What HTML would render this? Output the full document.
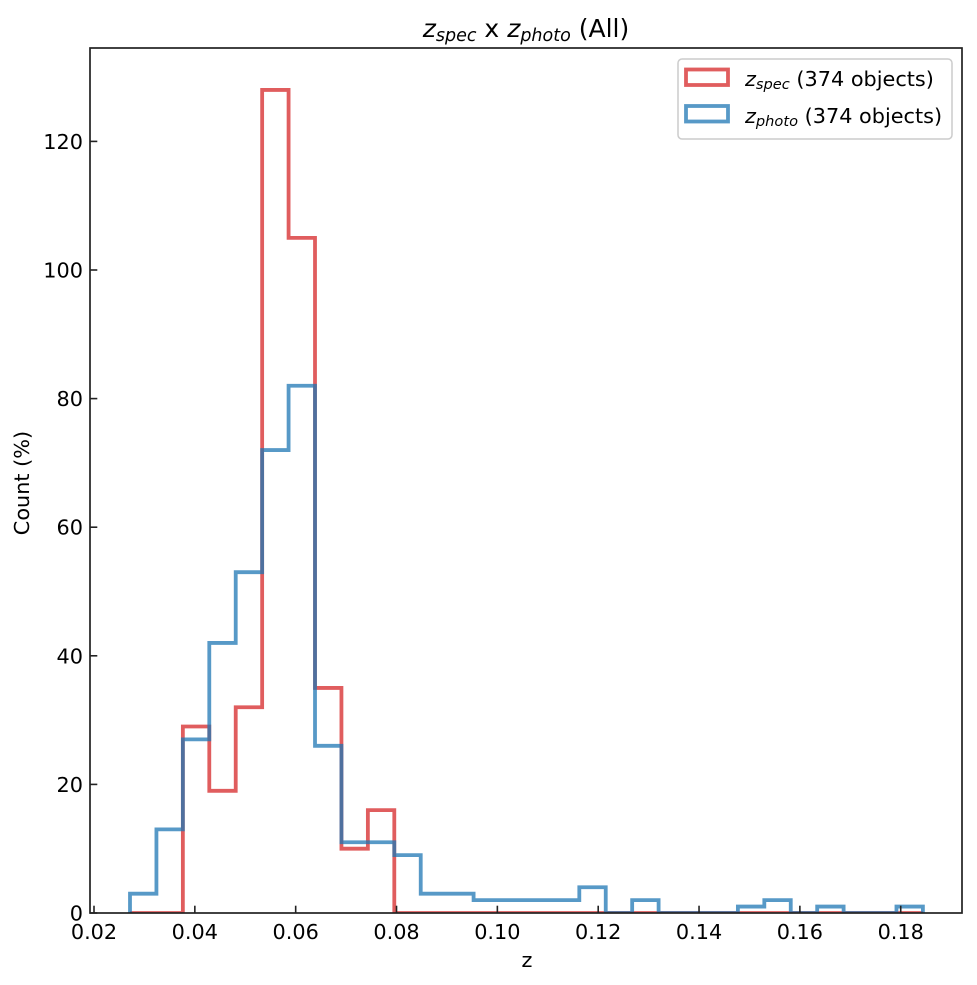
<!DOCTYPE html>
<html>
<head>
<meta charset="utf-8">
<style>
  html, body { margin: 0; padding: 0; background: #ffffff; }
  svg { display: block; }
  text { font-family: "DejaVu Sans", "Liberation Sans", sans-serif; fill: #000; }
</style>
</head>
<body>
<svg width="977" height="985" viewBox="0 0 977 985" xmlns="http://www.w3.org/2000/svg">
  <rect x="0" y="0" width="977" height="985" fill="#ffffff"/>
  <defs>
    <clipPath id="ax">
      <rect x="90" y="48" width="872" height="865"/>
    </clipPath>
  </defs>

  <!-- Histograms -->
  <g clip-path="url(#ax)" fill="none" stroke-width="3.8" stroke-linejoin="miter" stroke-linecap="butt">
    <path stroke="#d62728" stroke-opacity="0.75"
      d="M130,913 H182.86 V726.53 H209.29 V790.83 H235.72 V707.24 H262.15 V89.96 H288.58 V237.85 H315.01 V687.95 H341.44 V848.7 H367.87 V810.12 H394.3 V913 H922.9"/>
    <path stroke="#1f77b4" stroke-opacity="0.75"
      d="M130,913 V893.71 H156.43 V829.41 H182.86 V739.39 H209.29 V642.94 H235.72 V572.21 H262.15 V450.04 H288.58 V385.74 H315.01 V745.82 H341.44 V842.27 H394.3 V855.13 H420.73 V893.71 H473.59 V900.14 H579.31 V887.28 H605.74 V913 H632.17 V900.14 H658.6 V913 H737.89 V906.57 H764.32 V900.14 H790.75 V913 H817.18 V906.57 H843.61 V913 H896.47 V906.57 H922.9 V913"/>
  </g>

  <!-- Ticks (inward) -->
  <g stroke="#222" stroke-width="1.6">
    <line x1="94" y1="913" x2="94" y2="905.7"/>
    <line x1="194.84" y1="913" x2="194.84" y2="905.7"/>
    <line x1="295.68" y1="913" x2="295.68" y2="905.7"/>
    <line x1="396.52" y1="913" x2="396.52" y2="905.7"/>
    <line x1="497.36" y1="913" x2="497.36" y2="905.7"/>
    <line x1="598.2" y1="913" x2="598.2" y2="905.7"/>
    <line x1="699.04" y1="913" x2="699.04" y2="905.7"/>
    <line x1="799.88" y1="913" x2="799.88" y2="905.7"/>
    <line x1="900.72" y1="913" x2="900.72" y2="905.7"/>

    <line x1="90" y1="913" x2="97.3" y2="913"/>
    <line x1="90" y1="784.4" x2="97.3" y2="784.4"/>
    <line x1="90" y1="655.8" x2="97.3" y2="655.8"/>
    <line x1="90" y1="527.2" x2="97.3" y2="527.2"/>
    <line x1="90" y1="398.6" x2="97.3" y2="398.6"/>
    <line x1="90" y1="270" x2="97.3" y2="270"/>
    <line x1="90" y1="141.4" x2="97.3" y2="141.4"/>
  </g>

  <!-- Spines -->
  <rect x="90" y="48" width="872" height="865" fill="none" stroke="#222" stroke-width="1.7"/>

  <!-- X tick labels -->
  <g font-size="20.8" text-anchor="middle">
    <text x="94" y="939">0.02</text>
    <text x="194.84" y="939">0.04</text>
    <text x="295.68" y="939">0.06</text>
    <text x="396.52" y="939">0.08</text>
    <text x="497.36" y="939">0.10</text>
    <text x="598.2" y="939">0.12</text>
    <text x="699.04" y="939">0.14</text>
    <text x="799.88" y="939">0.16</text>
    <text x="900.72" y="939">0.18</text>
  </g>

  <!-- Y tick labels -->
  <g font-size="20.8" text-anchor="end">
    <text x="83" y="920.5">0</text>
    <text x="83" y="791.9">20</text>
    <text x="83" y="663.3">40</text>
    <text x="83" y="534.7">60</text>
    <text x="83" y="406.1">80</text>
    <text x="83" y="277.5">100</text>
    <text x="83" y="148.9">120</text>
  </g>

  <!-- Axis labels -->
  <text x="527" y="967" font-size="20.8" text-anchor="middle">z</text>
  <text transform="translate(29,483) rotate(-90)" font-size="20.8" text-anchor="middle">Count (%)</text>

  <!-- Title -->
  <text x="526" y="37" font-size="25" text-anchor="middle"><tspan font-style="italic">z</tspan><tspan font-style="italic" font-size="17.5" dy="4">spec</tspan><tspan dy="-4"> x </tspan><tspan font-style="italic">z</tspan><tspan font-style="italic" font-size="17.5" dy="4">photo</tspan><tspan dy="-4"> (All)</tspan></text>

  <!-- Legend -->
  <rect x="678" y="59" width="274" height="80" rx="4" ry="4" fill="#ffffff" fill-opacity="0.8" stroke="#cccccc" stroke-width="1.5"/>
  <rect x="686" y="69.5" width="42" height="15.5" fill="none" stroke="#d62728" stroke-opacity="0.75" stroke-width="3.8"/>
  <rect x="686" y="106" width="42" height="15.5" fill="none" stroke="#1f77b4" stroke-opacity="0.75" stroke-width="3.8"/>
  <text x="745" y="86" font-size="20.8"><tspan font-style="italic">z</tspan><tspan font-style="italic" font-size="14.6" dy="3">spec</tspan><tspan dy="-3"> (374 objects)</tspan></text>
  <text x="745" y="123" font-size="20.8"><tspan font-style="italic">z</tspan><tspan font-style="italic" font-size="14.6" dy="3">photo</tspan><tspan dy="-3"> (374 objects)</tspan></text>
</svg>
</body>
</html>
